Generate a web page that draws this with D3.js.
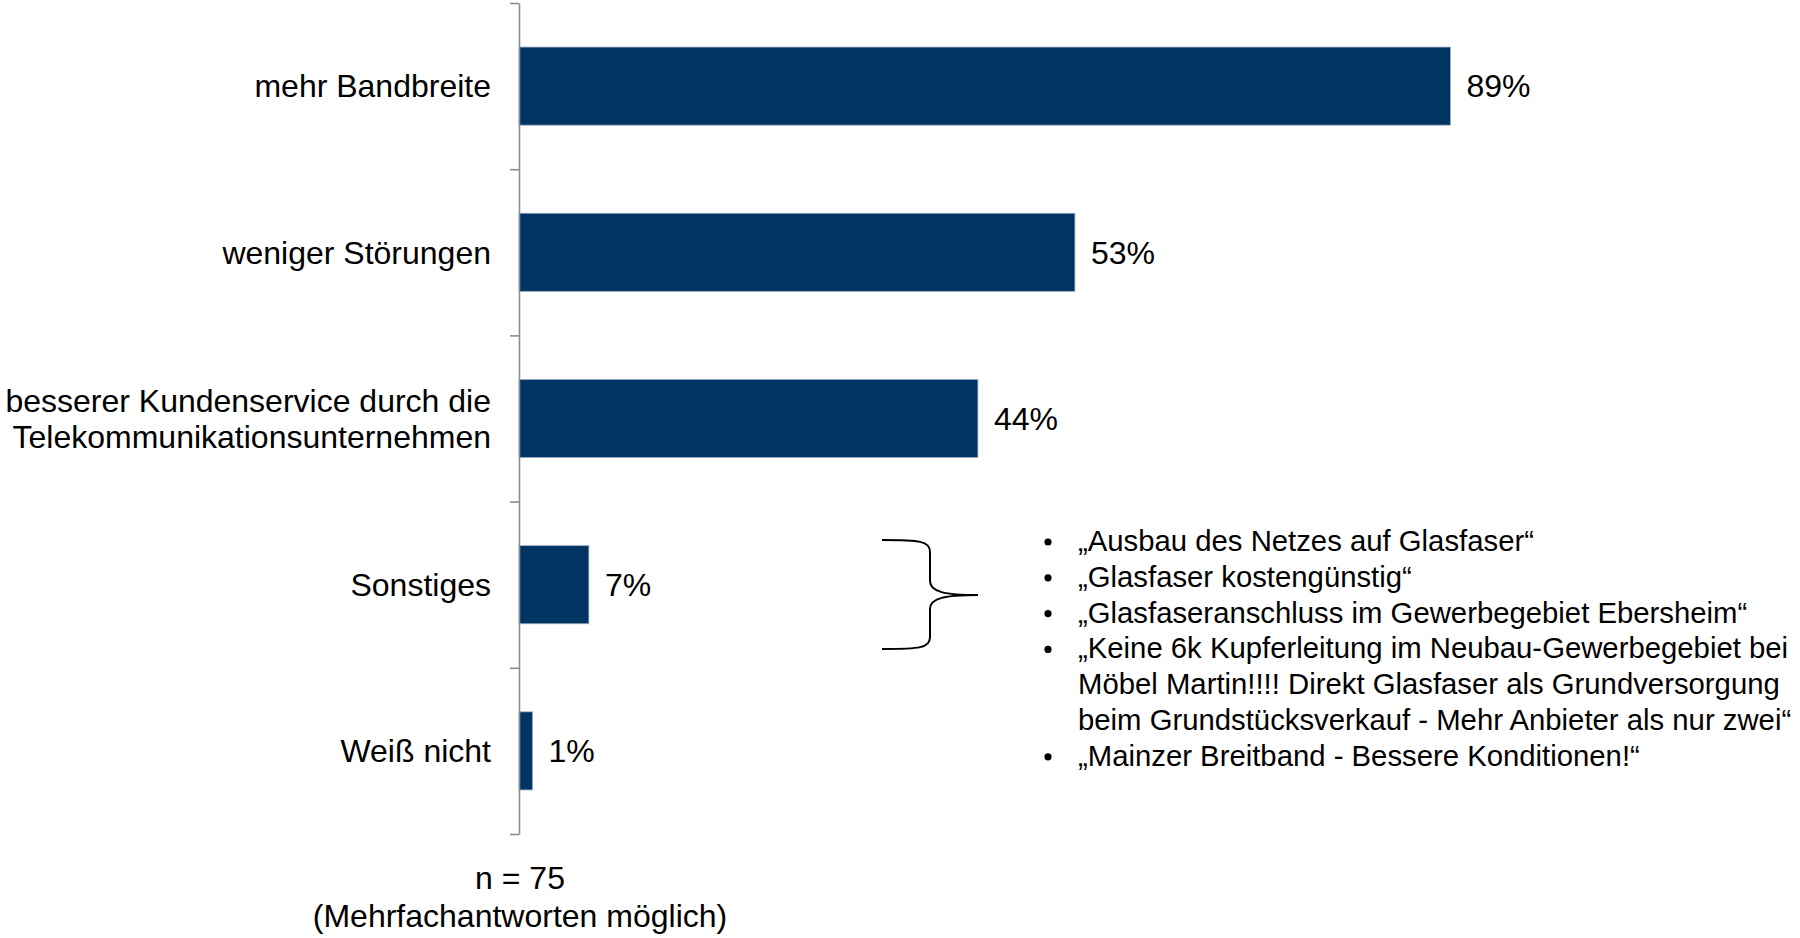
<!DOCTYPE html>
<html>
<head>
<meta charset="utf-8">
<script src="https://cdn.jsdelivr.net/npm/d3@7/dist/d3.min.js"></script>
<style>
  html, body { margin: 0; padding: 0; background: #fff; }
  svg { display: block; font-family: "Liberation Sans", Arial, sans-serif; }
</style>
</head>
<body>
<svg id="chart" width="1800" height="938"></svg>
<script>
// ---- data ----
const categories = ["mehr Bandbreite", "weniger Störungen", "besserer Kundenservice durch die|Telekommunikationsunternehmen", "Sonstiges", "Weiß nicht"];
const values = [89.3, 53.3, 44.0, 6.7, 1.3];
const valueLabels = ["89%", "53%", "44%", "7%", "1%"];
const comments = [
  ["„Ausbau des Netzes auf Glasfaser“"],
  ["„Glasfaser kostengünstig“"],
  ["„Glasfaseranschluss im Gewerbegebiet Ebersheim“"],
  ["„Keine 6k Kupferleitung im Neubau-Gewerbegebiet bei", "Möbel Martin!!!! Direkt Glasfaser als Grundversorgung", "beim Grundstücksverkauf - Mehr Anbieter als nur zwei“"],
  ["„Mainzer Breitband - Bessere Konditionen!“"]
];
const footnote = ["n = 75", "(Mehrfachantworten möglich)"];

// ---- layout ----
const svg = d3.select("#chart");
const axisX = 519, plotTop = 3, plotBottom = 834;
const x = d3.scaleLinear().domain([0, 100]).range([axisX, axisX + 1043]);
const y = d3.scaleBand().domain(categories).range([plotTop, plotBottom]).paddingInner(0.53).paddingOuter(0.265);
const barColor = "#003462";

// bars
svg.append("g").selectAll("rect").data(values).join("rect")
  .attr("x", x(0))
  .attr("y", (d, i) => y(categories[i]))
  .attr("width", d => x(d) - x(0))
  .attr("height", y.bandwidth())
  .attr("fill", barColor)
  .attr("stroke", "#9fb0c4")
  .attr("stroke-width", 0.8);

// axis with ticks at band boundaries
const tickScale = d3.scaleLinear().domain([0, categories.length]).range([plotTop, plotBottom]);
const axis = svg.append("g").attr("transform", `translate(${axisX},0)`)
  .call(d3.axisLeft(tickScale).tickValues(d3.range(categories.length + 1)).tickFormat("").tickSize(9).tickSizeOuter(0));
axis.selectAll("path, line").attr("stroke", "#8c8c8c").attr("stroke-width", 1.6);

// category labels
const catG = svg.append("g").attr("font-size", 32).attr("fill", "#000").attr("text-anchor", "end");
categories.forEach((c, i) => {
  const lines = c.split("|");
  const cy = y(c) + y.bandwidth() / 2;
  const lh = 36;
  lines.forEach((ln, j) => {
    catG.append("text")
      .attr("x", 491)
      .attr("y", cy + (j - (lines.length - 1) / 2) * lh)
      .attr("dy", "0.35em")
      .text(ln);
  });
});

// value labels
svg.append("g").attr("font-size", 32).selectAll("text").data(values).join("text")
  .attr("x", d => x(d) + 16)
  .attr("y", (d, i) => y(categories[i]) + y.bandwidth() / 2)
  .attr("dy", "0.35em")
  .text((d, i) => valueLabels[i]);

// brace
const bx0 = 882, bx1 = 930, bx2 = 978, by0 = 540, bym = 595, by1 = 649;
const brace = d3.path();
brace.moveTo(bx0, by0);
brace.bezierCurveTo(bx1 - 10, by0, bx1, by0 + 1, bx1, by0 + 12);
brace.lineTo(bx1, bym - 14);
brace.bezierCurveTo(bx1, bym - 3, bx1 + 15, bym, bx2, bym);
brace.moveTo(bx2, bym);
brace.bezierCurveTo(bx1 + 15, bym, bx1, bym + 3, bx1, bym + 14);
brace.lineTo(bx1, by1 - 12);
brace.bezierCurveTo(bx1, by1 - 1, bx1 - 10, by1, bx0, by1);
svg.append("path").attr("d", brace.toString()).attr("fill", "none").attr("stroke", "#000").attr("stroke-width", 2);

// comments
const cg = svg.append("g").attr("font-size", 29.3).attr("fill", "#000");
let lineIdx = 0;
const baseY = 551, lineH = 35.8;
comments.forEach(item => {
  item.forEach((ln, j) => {
    const yy = baseY + lineIdx * lineH;
    if (j === 0) {
      cg.append("circle").attr("cx", 1048).attr("cy", yy - 9).attr("r", 3.6).attr("fill", "#000");
    }
    cg.append("text").attr("x", 1078).attr("y", yy).text(ln);
    lineIdx++;
  });
});

// footnote
svg.append("g").attr("font-size", 32).attr("text-anchor", "middle").selectAll("text").data(footnote).join("text")
  .attr("x", 520)
  .attr("y", (d, i) => 889 + i * 37.5)
  .text(d => d);
</script>
</body>
</html>
